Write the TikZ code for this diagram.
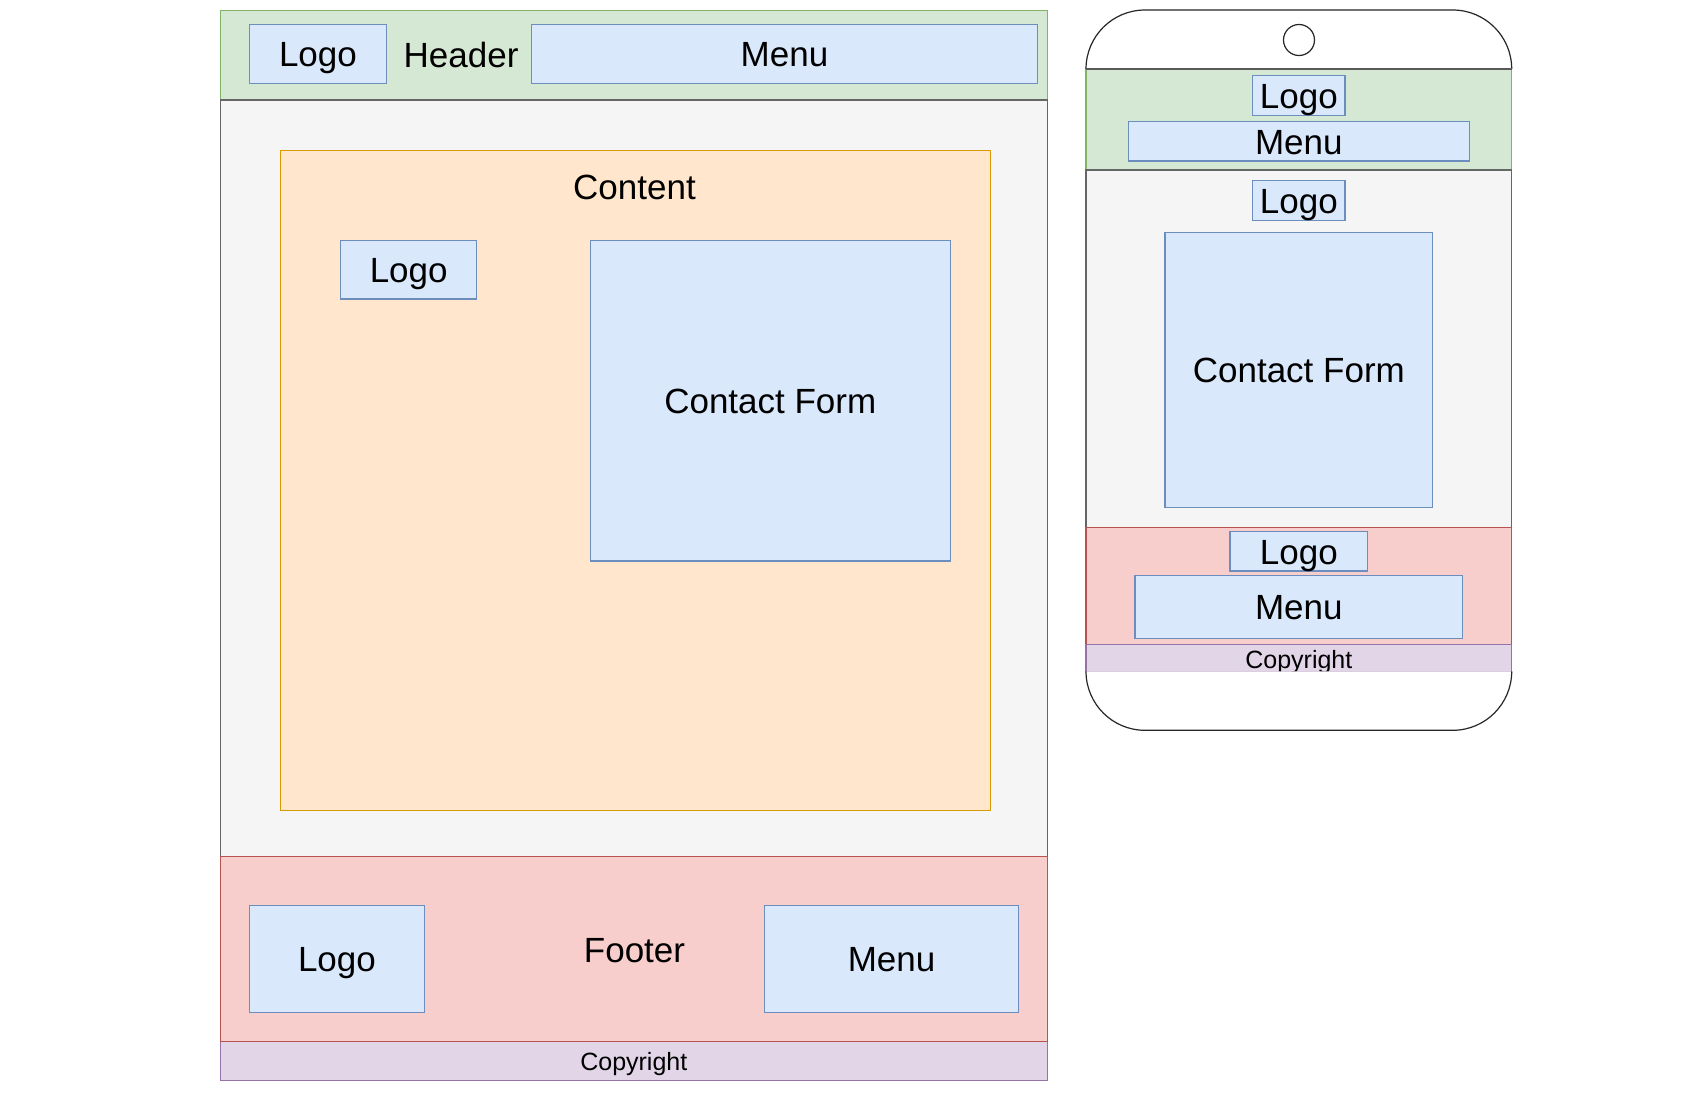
\documentclass[tikz,border=0pt]{standalone}
\usepackage{fontspec}
\setmainfont{Liberation Sans}
\definecolor{gfill}{HTML}{D5E8D4}\definecolor{gline}{HTML}{82B366}
\definecolor{bfill}{HTML}{DAE8FC}\definecolor{bline}{HTML}{6C8EBF}
\definecolor{kfill}{HTML}{F5F5F5}\definecolor{kline}{HTML}{666666}
\definecolor{ofill}{HTML}{FFE6CC}\definecolor{oline}{HTML}{D79B00}
\definecolor{rfill}{HTML}{F8CECC}\definecolor{rline}{HTML}{B85450}
\definecolor{pfill}{HTML}{E1D5E7}\definecolor{pline}{HTML}{9673A6}
\newcommand\bigtxt{\fontsize{35}{41}\selectfont}
\newcommand\smalltxt{\fontsize{25}{30}\selectfont}
\tikzset{
  area/.style={line width=1.1pt, inner sep=0pt, outer sep=0pt, anchor=north west},
  green/.style={area, draw=gline, fill=gfill},
  gray/.style={area, draw=kline, fill=kfill},
  orange/.style={area, draw=oline, fill=ofill},
  red/.style={area, draw=rline, fill=rfill},
  purple/.style={area, draw=pline, fill=pfill, font=\smalltxt, text height=21.5pt, text depth=3pt},
  bluebox/.style={area, draw=bline, fill=bfill, font=\bigtxt, text height=30.5pt, text depth=5pt},
  label/.style={inner sep=0pt, font=\bigtxt, text height=30.5pt, text depth=5pt},
  phone/.style={line width=1.2pt, draw=black!85, fill=white},
}
\begin{document}
\begin{tikzpicture}[x=1pt,y=-1pt]
\useasboundingbox[fill=white] (0,0) rectangle (1700,1100);
% ---------------- desktop layout ----------------
\node[green, minimum width=827pt, minimum height=89.7pt] (hdr) at (220.3,10.3) {};
\node[gray, minimum width=827pt, minimum height=756.7pt] (body) at (220.3,100) {};
\node[purple, minimum width=827pt, minimum height=38.8pt] (copy) at (220.3,1041.5) {Copyright};
\node[red, minimum width=827pt, minimum height=184.8pt] (ftr) at (220.3,856.7) {};
\node[bluebox, minimum width=137.1pt, minimum height=58.6pt] (hlogo) at (249.4,24.7) {Logo};
\node[label] (htext) at (461.1,55.2) {Header};
\node[bluebox, minimum width=506.2pt, minimum height=58.6pt] (hmenu) at (531.4,24.7) {Menu};
\node[orange, minimum width=709.6pt, minimum height=660pt] (cont) at (280.7,150.3) {};
\node[label] (ctext) at (634.5,186.5) {Content};
\node[bluebox, minimum width=136.4pt, minimum height=58.7pt] (clogo) at (340.5,240.3) {Logo};
\node[bluebox, minimum width=359.6pt, minimum height=320.7pt] (cform) at (590.5,240.3) {Contact Form};
\node[bluebox, minimum width=175.3pt, minimum height=107pt] (flogo) at (249.3,905.3) {Logo};
\node[label] (ftext) at (634.5,949.8) {Footer};
\node[bluebox, minimum width=253.4pt, minimum height=107pt] (fmenu) at (764.9,905.3) {Menu};
% ---------------- mobile layout ----------------
\node[green, minimum width=425.7pt, minimum height=101pt] (mhdr) at (1086,69) {};
\node[gray, minimum width=425.7pt, minimum height=357.3pt] (mbody) at (1086,170) {};
\node[red, minimum width=425.7pt, minimum height=117.4pt] (mftr) at (1086,527.3) {};
\node[purple, minimum width=425.7pt, minimum height=26.6pt, text height=23pt, text depth=2pt] (mcopy) at (1086,644.7) {Copyright};
\filldraw[phone] (1086,69) -- (1086,69) arc[start angle=180, end angle=90, radius=59pt]
  -- (1452.7,10) arc[start angle=90, end angle=0, radius=59pt] -- (1511.7,69);
\draw[line width=1.2pt, draw=black!65] (1086,69) -- (1511.7,69);
\filldraw[phone] (1086,671.3) arc[start angle=180, end angle=270, radius=59pt]
  -- (1452.7,730.3) arc[start angle=270, end angle=360, radius=59pt];
\node[circle, draw=black!85, line width=1.2pt, fill=white, minimum size=31pt, inner sep=0pt] (cam) at (1299,40) {};
\node[bluebox, minimum width=92.3pt, minimum height=39.6pt] (mhlogo) at (1252.7,75.7) {Logo};
\node[bluebox, minimum width=341pt, minimum height=39.3pt] (mhmenu) at (1128.3,121.7) {Menu};
\node[bluebox, minimum width=92.3pt, minimum height=40pt] (mclogo) at (1252.7,180.3) {Logo};
\node[bluebox, minimum width=267.7pt, minimum height=274.6pt] (mcform) at (1165,232.7) {Contact Form};
\node[bluebox, minimum width=137.7pt, minimum height=39.3pt] (mflogo) at (1230,531.7) {Logo};
\node[bluebox, minimum width=327.7pt, minimum height=63.4pt] (mfmenu) at (1135,575.3) {Menu};
\end{tikzpicture}
\end{document}
